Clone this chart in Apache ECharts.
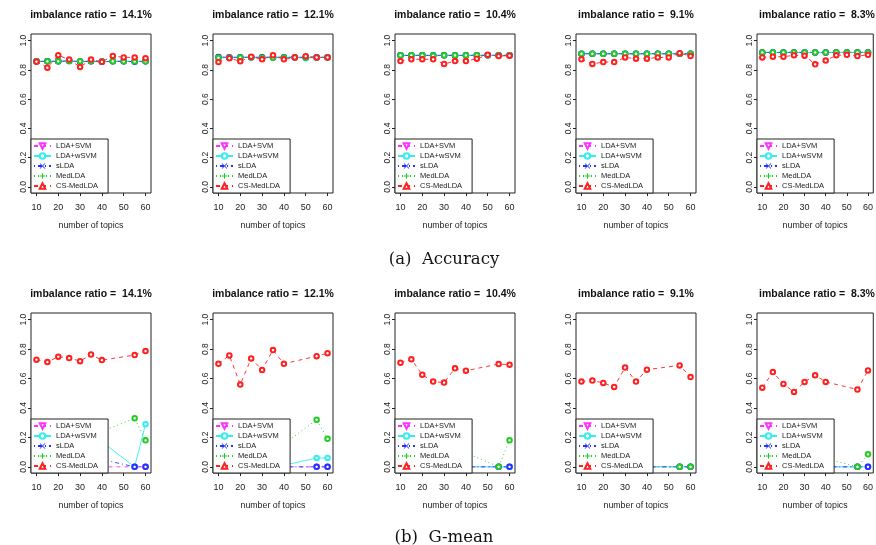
<!DOCTYPE html>
<html><head><meta charset="utf-8">
<script src="https://cdn.jsdelivr.net/npm/echarts@6/dist/echarts.min.js"></script>
<style>html,body{margin:0;padding:0;background:#fff}#c{width:876px;height:545px}</style>
</head><body><div id="c"></div><script>
// ---------- data ----------
const ratios = ['14.1%', '12.1%', '10.4%', '9.1%', '8.3%'];
const methods = ['LDA+SVM', 'LDA+wSVM', 'sLDA', 'MedLDA', 'CS-MedLDA'];
const topicsAcc = [10, 15, 20, 25, 30, 35, 40, 45, 50, 55, 60];
const topicsGm = [10, 15, 20, 25, 30, 35, 40, 55, 60];
const xTicks = [10, 20, 30, 40, 50, 60];
const yTicks = [0, 0.2, 0.4, 0.6, 0.8, 1.0];
const captions = ['(a)  Accuracy', '(b)  G-mean'];

// Accuracy: one row per imbalance ratio
const accLdaSvm = [
  [0.858, 0.858, 0.858, 0.860, 0.858, 0.858, 0.856, 0.858, 0.858, 0.858, 0.858],
  [0.885, 0.884, 0.885, 0.885, 0.884, 0.885, 0.885, 0.885, 0.884, 0.885, 0.885],
  [0.899, 0.899, 0.899, 0.899, 0.899, 0.899, 0.899, 0.899, 0.899, 0.899, 0.899],
  [0.910, 0.910, 0.910, 0.910, 0.910, 0.910, 0.910, 0.910, 0.910, 0.910, 0.910],
  [0.919, 0.919, 0.919, 0.919, 0.919, 0.919, 0.919, 0.919, 0.919, 0.919, 0.919]
];
const accLdaWsvm = [
  [0.858, 0.858, 0.858, 0.858, 0.857, 0.858, 0.857, 0.858, 0.858, 0.858, 0.858],
  [0.885, 0.885, 0.885, 0.885, 0.885, 0.885, 0.885, 0.885, 0.880, 0.885, 0.885],
  [0.899, 0.899, 0.899, 0.899, 0.899, 0.899, 0.899, 0.899, 0.899, 0.899, 0.899],
  [0.910, 0.910, 0.910, 0.910, 0.910, 0.910, 0.910, 0.910, 0.910, 0.910, 0.910],
  [0.919, 0.919, 0.919, 0.919, 0.919, 0.919, 0.919, 0.919, 0.919, 0.919, 0.919]
];
const accSlda = [
  [0.858, 0.858, 0.858, 0.862, 0.856, 0.858, 0.855, 0.858, 0.858, 0.856, 0.858],
  [0.887, 0.886, 0.886, 0.886, 0.886, 0.886, 0.886, 0.886, 0.886, 0.886, 0.886],
  [0.899, 0.898, 0.899, 0.898, 0.899, 0.898, 0.899, 0.899, 0.899, 0.899, 0.899],
  [0.910, 0.910, 0.910, 0.910, 0.910, 0.910, 0.910, 0.910, 0.910, 0.910, 0.910],
  [0.919, 0.919, 0.919, 0.919, 0.919, 0.919, 0.919, 0.919, 0.919, 0.919, 0.919]
];
const accMedLda = [
  [0.858, 0.858, 0.858, 0.860, 0.858, 0.860, 0.858, 0.858, 0.858, 0.858, 0.858],
  [0.882, 0.883, 0.884, 0.886, 0.882, 0.882, 0.884, 0.885, 0.885, 0.885, 0.885],
  [0.899, 0.899, 0.899, 0.896, 0.899, 0.899, 0.899, 0.899, 0.899, 0.899, 0.899],
  [0.910, 0.910, 0.910, 0.910, 0.910, 0.910, 0.910, 0.910, 0.910, 0.910, 0.910],
  [0.919, 0.919, 0.919, 0.919, 0.919, 0.919, 0.919, 0.919, 0.919, 0.919, 0.919]
];
const accCsMedLda = [
  [0.856, 0.815, 0.900, 0.870, 0.820, 0.870, 0.855, 0.895, 0.885, 0.885, 0.880],
  [0.853, 0.880, 0.858, 0.890, 0.872, 0.900, 0.872, 0.885, 0.893, 0.885, 0.885],
  [0.860, 0.872, 0.872, 0.872, 0.840, 0.860, 0.860, 0.876, 0.903, 0.894, 0.897],
  [0.872, 0.840, 0.853, 0.853, 0.885, 0.876, 0.876, 0.885, 0.885, 0.914, 0.894],
  [0.885, 0.890, 0.890, 0.899, 0.897, 0.838, 0.863, 0.899, 0.903, 0.894, 0.903]
];

// G-mean: one row per imbalance ratio
const gmLdaSvm = [
  [0, 0, 0, 0, 0, 0, 0, 0, 0],
  [0, 0, 0, 0, 0, 0, 0, 0, 0],
  [0, 0, 0, 0, 0, 0, 0, 0, 0],
  [0, 0, 0, 0, 0, 0, 0, 0, 0],
  [0, 0, 0, 0, 0, 0, 0, 0, 0]
];
const gmLdaWsvm = [
  [0.12, 0.10, 0.15, 0.13, 0.11, 0.16, 0.17, 0.00, 0.29],
  [0.01, 0.00, 0.02, 0.01, 0.00, 0.01, 0.01, 0.06, 0.06],
  [0, 0, 0, 0, 0, 0, 0, 0, 0],
  [0, 0, 0, 0, 0, 0, 0, 0, 0],
  [0, 0, 0, 0, 0, 0, 0, 0, 0]
];
const gmSlda = [
  [0.05, 0.04, 0.06, 0.05, 0.03, 0.06, 0.05, 0.00, 0.00],
  [0, 0, 0, 0, 0, 0, 0, 0, 0],
  [0, 0, 0, 0, 0, 0, 0, 0, 0],
  [0, 0, 0, 0, 0, 0, 0, 0, 0],
  [0, 0, 0, 0, 0, 0, 0, 0, 0]
];
const gmMedLda = [
  [0.22, 0.20, 0.25, 0.23, 0.21, 0.26, 0.24, 0.33, 0.18],
  [0.12, 0.10, 0.14, 0.13, 0.11, 0.16, 0.155, 0.32, 0.19],
  [0.08, 0.07, 0.09, 0.10, 0.08, 0.11, 0.095, 0.00, 0.18],
  [0, 0, 0, 0, 0, 0, 0, 0, 0],
  [0.04, 0.05, 0.06, 0.04, 0.05, 0.07, 0.056, 0.00, 0.085]
];
const gmCsMedLda = [
  [0.728, 0.712, 0.748, 0.739, 0.718, 0.763, 0.725, 0.759, 0.786],
  [0.700, 0.757, 0.559, 0.736, 0.658, 0.793, 0.700, 0.752, 0.772],
  [0.707, 0.730, 0.626, 0.579, 0.572, 0.669, 0.653, 0.698, 0.694],
  [0.579, 0.586, 0.570, 0.543, 0.674, 0.579, 0.660, 0.689, 0.610],
  [0.538, 0.644, 0.563, 0.509, 0.577, 0.622, 0.577, 0.525, 0.655]
];

// ---------- styling ----------
const colors = ['#FF33FF', '#33EEEE', '#2233FF', '#22CC22', '#FF2020'];
const dashes = [[4, 4], 'solid', [1, 3, 4, 3], [1, 3], [4, 4]];
const legendSymbols = ['emptyTriangle', 'emptyCircle',
  'path://M1,0L5,4L9,0L10,1L6,5L10,9L9,10L5,6L1,10L0,9L4,5L0,1Z',
  'path://M4,0H6V4H10V6H6V10H4V6H0V4H4Z', 'emptyTriangle'];
const legendRot = [180, 0, 0, 0, 0];

const gridLefts = [31, 213, 395, 576, 757];
const gridW = 120;
const rowTop = [34, 313];
const rowH = [159, 160];
const titleTop = [10, 289];
const captionTop = [251, 529];
const FONT = 'Liberation Sans, Arial, sans-serif';

const accRows = [accLdaSvm, accLdaWsvm, accSlda, accMedLda, accCsMedLda];
const gmRows = [gmLdaSvm, gmLdaWsvm, gmSlda, gmMedLda, gmCsMedLda];

const grids = [], xAxes = [], yAxes = [], series = [], legends = [], titles = [];

// dummy series (first) define legend icons
methods.forEach((m, k) => {
  series.push({
    type: 'line', name: m, xAxisIndex: 0, yAxisIndex: 0, data: [],
    symbol: legendSymbols[k], symbolRotate: legendRot[k], symbolSize: 6,
    itemStyle: { color: colors[k], borderWidth: 1 },
    lineStyle: { color: colors[k], width: 1, type: dashes[k] }
  });
});

for (let r = 0; r < 2; r++) {
  for (let c = 0; c < 5; c++) {
    const gi = r * 5 + c;
    grids.push({ left: gridLefts[c], top: rowTop[r], width: gridW, height: rowH[r],
      show: true, borderColor: '#222', borderWidth: 1, backgroundColor: 'transparent' });
    xAxes.push({
      gridIndex: gi, type: 'value', min: 7.5, max: 62.5,
      name: 'number of topics', nameLocation: 'middle', nameGap: 28,
      nameTextStyle: { fontSize: 8.8, color: '#222', fontFamily: FONT },
      axisLine: { show: false, onZero: false },
      axisTick: { show: true, length: 3, customValues: xTicks, lineStyle: { color: '#222' } },
      axisLabel: { customValues: xTicks, margin: 10, fontSize: 9, color: '#222', fontFamily: FONT },
      splitLine: { show: false }
    });
    yAxes.push({
      gridIndex: gi, type: 'value', min: -0.042, max: 1.045,
      axisLine: { show: false, onZero: false },
      axisTick: { show: true, length: 3, customValues: yTicks, lineStyle: { color: '#222' } },
      axisLabel: { customValues: yTicks, rotate: 90, margin: 3, fontSize: 8.5, color: '#222',
        fontFamily: FONT, formatter: v => v.toFixed(1) },
      splitLine: { show: false }
    });
    const xs = r === 0 ? topicsAcc : topicsGm;
    const rows = r === 0 ? accRows : gmRows;
    methods.forEach((m, k) => {
      series.push({
        type: 'line', name: m, xAxisIndex: gi, yAxisIndex: gi,
        data: xs.map((x, i) => [x, rows[k][c][i]]),
        symbol: 'emptyCircle', symbolSize: 4.5,
        itemStyle: { color: colors[k], borderWidth: 0.8 },
        lineStyle: { color: colors[k], width: 0.9, type: dashes[k] }
      });
    });
    legends.push({
      data: methods, orient: 'vertical', left: gridLefts[c], bottom: 545 - (rowTop[r] + rowH[r]),
      itemWidth: 17, itemHeight: 7, itemGap: 2, padding: [3, 10, 3, 2],
      backgroundColor: '#fff', borderColor: '#222', borderWidth: 1, borderRadius: 0,
      selectedMode: false,
      textStyle: { fontSize: 7.5, color: '#222', fontFamily: FONT, lineHeight: 7 }
    });
    titles.push({
      text: 'imbalance ratio =  ' + ratios[c], left: gridLefts[c] + gridW / 2, top: titleTop[r],
      textAlign: 'center', padding: 0,
      textStyle: { fontSize: 10.5, fontWeight: 'bold', color: '#111', fontFamily: FONT }
    });
  }
  titles.push({
    text: captions[r], left: 444, top: captionTop[r], textAlign: 'center', padding: 0,
    textStyle: { fontSize: 16.5, fontWeight: 'normal', color: '#111', fontFamily: 'DejaVu Serif, serif' }
  });
}

const chart = echarts.init(document.getElementById('c'), null, { renderer: 'canvas' });
chart.setOption({
  animation: false,
  backgroundColor: '#fff',
  title: titles, grid: grids, xAxis: xAxes, yAxis: yAxes, legend: legends, series: series
});
</script></body></html>
